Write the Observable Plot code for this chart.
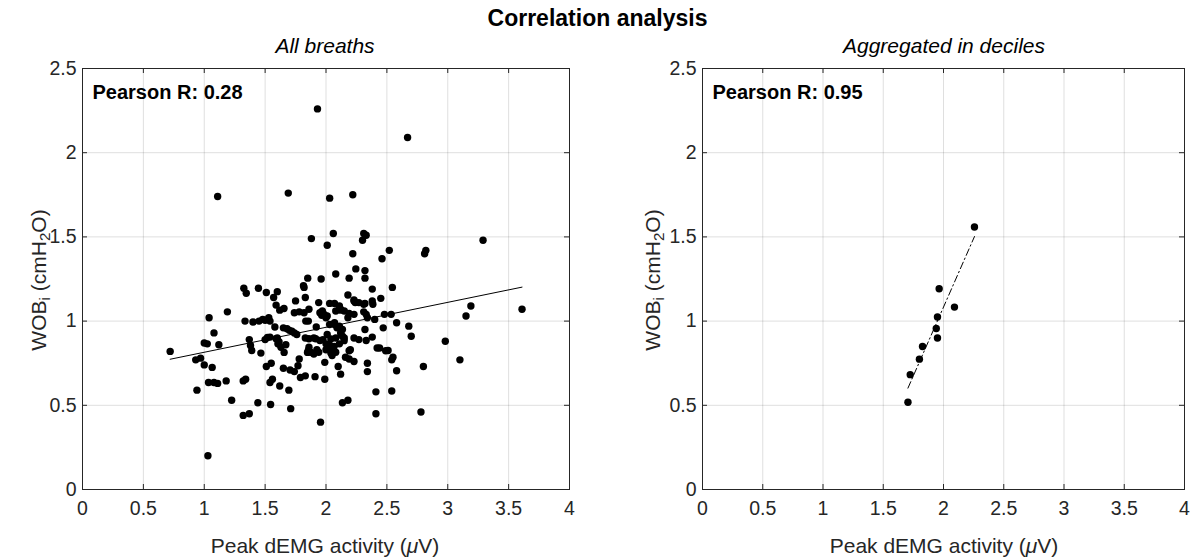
<!DOCTYPE html>
<html><head><meta charset="utf-8">
<script src="https://cdn.jsdelivr.net/npm/d3@7"></script>
<script src="https://cdn.jsdelivr.net/npm/@observablehq/plot@0.6"></script>
<style>
body{margin:0;background:#fff;}
#root{position:relative;width:1195px;height:558px;font-family:"Liberation Sans",Arial,sans-serif;color:#262626;overflow:hidden;background:#fff}
.ov{position:absolute;white-space:nowrap;line-height:1;}
.title{left:0;width:1195px;top:7px;text-align:center;font-size:23px;font-weight:bold;color:#000}
.sub{top:35px;width:400px;text-align:center;font-size:21px;font-style:italic;color:#000}
.ylab{font-size:21px;transform:translate(-50%,-50%) rotate(-90deg);}
.xlab{font-size:21px;transform:translate(-50%,-50%);}
sub{font-size:0.72em;vertical-align:-0.3em;line-height:0}
</style></head><body>
<div id="root">
  <div id="left" style="position:absolute;left:0;top:0"></div>
  <div id="right" style="position:absolute;left:600px;top:0"></div>
  <div class="ov title" id="mainTitle"></div>
  <div class="ov sub" id="subL" style="left:125px"></div>
  <div class="ov sub" id="subR" style="left:744px"></div>
  <div class="ov ylab" id="ylabL" style="left:38px;top:280px"></div>
  <div class="ov ylab" id="ylabR" style="left:652px;top:280px"></div>
  <div class="ov xlab" id="xlabL" style="left:325px;top:545px"></div>
  <div class="ov xlab" id="xlabR" style="left:944px;top:545px"></div>
</div>
<script>
// ---- text ----
const mainTitle = "Correlation analysis";
const subtitles = ["All breaths", "Aggregated in deciles"];
const pearsonLabels = ["Pearson R: 0.28", "Pearson R: 0.95"];
const yLabelHTML = "WOB<sub>i</sub> (cmH<sub>2</sub>O)";
const xLabelHTML = "Peak dEMG activity (<i>\u03bc</i>V)";

// ---- axes ----
const xTicks = [0, 0.5, 1, 1.5, 2, 2.5, 3, 3.5, 4];
const xTickLabels = ["0", "0.5", "1", "1.5", "2", "2.5", "3", "3.5", "4"];
const yTicks = [0, 0.5, 1, 1.5, 2, 2.5];
const yTickLabels = ["0", "0.5", "1", "1.5", "2", "2.5"];

// ---- data: all breaths [peak dEMG (uV), WOBi (cmH2O)] ----
const allBreaths = [
[1.93,2.26],[2.67,2.09],[1.11,1.74],[1.69,1.76],[2.03,1.73],[2.22,1.75],[1.88,1.49],[2.01,1.45],[2.06,1.52],
[2.31,1.52],[2.33,1.51],[2.30,1.48],[2.22,1.40],[2.52,1.42],[2.46,1.37],[2.82,1.42],[2.81,1.40],[3.29,1.48],
[2.08,1.28],[2.245,1.31],[2.32,1.30],[2.32,1.255],[2.19,1.255],[1.96,1.25],[1.85,1.255],
[3.61,1.07],[3.19,1.09],[3.15,1.03],[2.98,0.88],[3.10,0.77],[2.80,0.73],[2.78,0.46],[2.68,0.97],[2.70,0.91],
[2.58,0.99],[2.535,1.04],[2.545,1.20],[2.38,1.19],[2.45,1.135],[2.38,1.12],[2.385,1.10],[2.31,1.10],[2.18,1.155],
[2.23,1.125],[2.24,1.11],[2.03,1.105],[2.07,1.105],[2.12,1.065],[2.15,1.06],[2.19,1.045],[2.18,1.02],[1.985,1.04],
[2.01,1.03],[2.31,1.055],[2.33,1.04],[2.34,1.02],[2.40,1.01],[2.07,0.98],[2.11,0.97],[2.135,0.95],[2.12,0.93],
[2.15,0.90],[2.32,0.95],[2.47,0.96],[2.01,0.92],[2.08,0.90],[2.23,0.90],[2.27,0.89],[2.33,0.885],[2.38,0.905],
[2.03,0.855],[2.05,0.835],[2.08,0.815],[2.16,0.785],[2.20,0.83],[2.44,0.84],[2.51,0.825],[2.55,0.785],[2.54,0.77],
[1.99,0.755],[2.23,0.76],[2.34,0.75],[2.34,0.70],[2.10,0.73],[2.12,0.685],[1.99,0.655],[2.58,0.705],[2.41,0.58],
[2.54,0.585],[2.135,0.515],[2.18,0.53],[2.41,0.45],[1.955,0.40],
[0.72,0.82],[1.03,0.20],[0.94,0.59],[1.04,1.02],[1.08,0.93],[1.19,1.055],[1.00,0.87],[1.025,0.865],[1.12,0.86],
[0.93,0.77],[0.97,0.78],[1.00,0.74],[1.065,0.725],[1.035,0.635],[1.08,0.635],[1.11,0.63],[1.18,0.645],[1.225,0.53],
[1.325,1.195],[1.345,1.165],[1.445,1.195],[1.335,1.00],[1.40,0.995],[1.37,0.89],[1.38,0.855],[1.39,0.825],[1.465,0.81],
[1.32,0.645],[1.34,0.655],[1.32,0.44],[1.37,0.45],[1.44,0.515],[1.545,0.505],[1.54,0.635],[1.56,0.655],[1.62,0.615],
[1.695,0.59],[1.71,0.48],[1.51,1.17],[1.57,1.14],[1.60,1.175],[1.59,1.095],[1.62,1.065],[1.655,1.075],[1.50,1.005],
[1.53,1.02],[1.48,1.01],[1.45,1.0],[1.54,1.0],[1.58,0.965],[1.65,0.96],[1.68,0.955],[1.70,0.945],[1.72,0.94],
[1.74,0.93],[1.76,0.92],[1.50,0.89],[1.54,0.905],[1.59,0.895],[1.605,0.865],[1.63,0.845],[1.67,0.86],[1.656,0.814],
[1.51,0.73],[1.55,0.75],[1.65,0.72],[1.705,0.71],[1.74,0.70],[1.77,0.735],[1.78,0.775],[1.79,0.665],[1.83,0.675],
[1.91,0.67],[1.75,1.12],[1.83,1.14],[1.815,1.21],[1.82,1.20],[1.95,1.05],[1.965,1.035],[1.74,1.05],[1.78,1.055],
[1.82,1.05],[1.855,1.00],[1.92,0.965],[1.86,0.895],[1.915,0.895],[1.95,0.885],[1.975,0.89],[1.855,0.825],[1.875,0.815],
[1.90,0.805],[1.925,0.83],[2.00,0.865],[1.94,1.11],[2.23,1.12],[2.27,1.11],[2.32,1.105],[2.11,1.09],[1.86,1.07],
[1.97,1.06],[2.00,0.83],[2.11,0.865],[2.135,0.91],[2.09,0.96],[2.03,0.98],[2.07,0.99],[2.08,1.06],[1.86,0.845],
[1.94,0.815],[2.04,0.81],[2.05,0.795],[2.19,0.775],[2.42,0.84],[1.83,0.90],[1.90,0.90],
[2.026,0.858],[2.067,0.85],[2.19,0.824],[2.49,0.824],[1.848,0.814],[1.614,0.878],[1.519,0.903],[1.60,0.90],
[2.04,0.894],[2.149,0.884],[2.12,1.07],[2.0,1.02],[2.23,1.04],[2.48,1.04],[1.834,1.0]
];

// ---- data: aggregated in deciles ----
const deciles = [
[1.705,0.518],[1.724,0.682],[1.80,0.774],[1.826,0.849],[1.95,0.90],[1.94,0.956],[1.95,1.024],[2.091,1.083],[1.964,1.192],[2.257,1.559]
];

document.getElementById("mainTitle").textContent = mainTitle;
document.getElementById("subL").textContent = subtitles[0];
document.getElementById("subR").textContent = subtitles[1];
document.getElementById("ylabL").innerHTML = yLabelHTML;
document.getElementById("ylabR").innerHTML = yLabelHTML;
document.getElementById("xlabL").innerHTML = xLabelHTML;
document.getElementById("xlabR").innerHTML = xLabelHTML;

const axisColor = "#262626";
function panel(points, pearson, dash, width, mL, mR) {
  const H = 558, mT = 68, mB = 69;
  const innerH = H - mT - mB, innerW = width - mL - mR;
  return Plot.plot({
    width, height: H, marginLeft: mL, marginRight: mR, marginTop: mT, marginBottom: mB,
    x: {domain: [0, 4]},
    y: {domain: [0, 2.5]},
    style: {fontFamily: "'Liberation Sans', Arial, sans-serif", fontSize: "19.5px", color: axisColor, background: "transparent", overflow: "visible"},
    marks: [
      Plot.gridX(xTicks, {stroke: axisColor, strokeOpacity: 0.15}),
      Plot.gridY(yTicks, {stroke: axisColor, strokeOpacity: 0.15}),
      Plot.tickX(xTicks, {x: d => d, insetTop: innerH - 5, stroke: axisColor}),
      Plot.tickX(xTicks, {x: d => d, insetBottom: innerH - 5, stroke: axisColor}),
      Plot.tickY(yTicks, {y: d => d, insetRight: innerW - 5, stroke: axisColor}),
      Plot.tickY(yTicks, {y: d => d, insetLeft: innerW - 5, stroke: axisColor}),
      Plot.frame({stroke: axisColor}),
      Plot.axisX(xTicks, {tickSize: 0, tickPadding: 12, tickFormat: d => xTickLabels[xTicks.indexOf(d)], label: null, fill: axisColor}),
      Plot.axisY(yTicks, {tickSize: 0, tickPadding: 6, tickFormat: d => yTickLabels[yTicks.indexOf(d)], label: null, fill: axisColor}),
      Plot.linearRegressionY(points, {x: d => d[0], y: d => d[1], ci: 0, stroke: "black", strokeWidth: 1, strokeDasharray: dash}),
      Plot.dot(points, {x: d => d[0], y: d => d[1], r: 3.7, fill: "black"}),
      Plot.text([pearson], {text: d => d, frameAnchor: "top-left", dx: 10, dy: 24, textAnchor: "start", lineAnchor: "middle", fontWeight: "bold", fontSize: 20, fill: "black"})
    ]
  });
}
document.getElementById("left").append(panel(allBreaths, pearsonLabels[0], null, 590, 82, 21));
document.getElementById("right").append(panel(deciles, pearsonLabels[1], "7,3,1.5,3", 595, 102, 11));
</script>
</body></html>
